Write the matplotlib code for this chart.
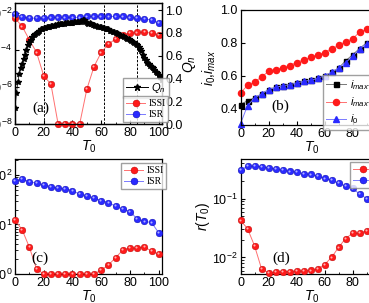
import matplotlib
matplotlib.use("Agg")
import matplotlib.pyplot as plt
import numpy as np
from matplotlib.lines import Line2D
from matplotlib.transforms import offset_copy
from matplotlib.ticker import FixedLocator, LogLocator, NullFormatter

plt.rcParams['font.family'] = ['Liberation Sans', 'DejaVu Sans']
plt.rcParams['mathtext.fontset'] = 'custom'
plt.rcParams['mathtext.rm'] = 'Liberation Sans'
plt.rcParams['mathtext.it'] = 'Liberation Sans:italic'

# ---- data ----
t5 = list(range(0, 105, 5))

# (a) ISSI / ISR, log10 of the left-axis value (0 -> bottom of axis)
a_issi_log = [-2.29, -2.74, -3.46, -4.14, -5.4, -5.85, -8, -8, -8, -8, -6.12,
              -4.9, -4.14, -3.68, -3.42, -3.19, -3.1, -3.06, -3.05, -3.1, -3.19]
a_isr_log = [-2.05, -2.23, -2.29, -2.29, -2.29, -2.25, -2.25, -2.25, -2.25, -2.25, -2.2,
             -2.2, -2.2, -2.2, -2.2, -2.2, -2.25, -2.29, -2.34, -2.38, -2.56]

# (a) Q_n, right axis
qn_t = list(range(0, 103))
qn = [0.14, 0.27, 0.37, 0.44, 0.49, 0.53, 0.57, 0.61, 0.65, 0.69,
      0.72, 0.74, 0.76, 0.78, 0.79, 0.80, 0.81, 0.82, 0.83, 0.835,
      0.84, 0.845, 0.85, 0.85, 0.855, 0.86, 0.86, 0.865, 0.87, 0.87,
      0.875, 0.875, 0.88, 0.88, 0.88, 0.885, 0.885, 0.885, 0.89, 0.89,
      0.89, 0.895, 0.895, 0.895, 0.90, 0.90, 0.905, 0.91, 0.91, 0.90,
      0.89, 0.88, 0.885, 0.875, 0.87, 0.87, 0.865, 0.86, 0.855, 0.85,
      0.85, 0.845, 0.84, 0.835, 0.83, 0.83, 0.82, 0.815, 0.81, 0.805,
      0.80, 0.795, 0.79, 0.78, 0.775, 0.77, 0.76, 0.755, 0.75, 0.745,
      0.74, 0.73, 0.72, 0.71, 0.70, 0.69, 0.68, 0.66, 0.64, 0.61,
      0.58, 0.56, 0.54, 0.53, 0.51, 0.50, 0.49, 0.47, 0.46, 0.45,
      0.43, 0.41, 0.385]
vlines_t = [20, 62, 85]

# (b)
b_t = list(range(0, 95, 5))
b_imax1 = [0.424, 0.448, 0.465, 0.489, 0.515, 0.529, 0.539, 0.545, 0.556, 0.566,
           0.572, 0.584, 0.6, 0.62, 0.646, 0.69, 0.727, 0.765, 0.80]
b_imax2 = [0.495, 0.541, 0.562, 0.592, 0.626, 0.636, 0.65, 0.662, 0.68, 0.697,
           0.711, 0.727, 0.741, 0.764, 0.784, 0.808, 0.824, 0.865, 0.883]
b_i0 = [0.307, 0.418, 0.465, 0.489, 0.515, 0.529, 0.539, 0.545, 0.556, 0.566,
        0.572, 0.584, 0.6, 0.62, 0.646, 0.68, 0.717, 0.762, 0.794]

# (c) log10 values
c_issi_log = [1.09, 0.89, 0.54, 0.1, 0, 0, 0, 0, 0, 0, 0, 0,
              0.08, 0.18, 0.33, 0.48, 0.53, 0.52, 0.55, 0.46, 0.4]
c_isr_log = [1.885, 1.91, 1.865, 1.83, 1.8, 1.76, 1.73, 1.72, 1.68, 1.61, 1.58,
             1.53, 1.48, 1.44, 1.37, 1.31, 1.26, 1.11, 1.06, 1.04, 0.83]

# (d) log10 values
d_t = list(range(0, 95, 5))
d_issi_log = [-1.37, -1.51, -1.80, -2.19, -2.26, -2.25, -2.24, -2.24, -2.23, -2.23,
              -2.22, -2.2, -2.12, -2.0, -1.83, -1.68, -1.59, -1.59, -1.55]
d_isr_log = [-0.52, -0.45, -0.45, -0.46, -0.48, -0.5, -0.52, -0.54, -0.55, -0.58,
             -0.59, -0.62, -0.66, -0.69, -0.74, -0.79, -0.83, -0.92, -1.0]

W, H = 369, 303
fig = plt.figure(figsize=(W / 100, H / 100), dpi=100)

RED, RED_L, RED_E = '#ff1a1a', '#ff7070', '#b00000'
BLU, BLU_L, BLU_E = '#2a2aff', '#7a7aff', '#0000a0'


def px_axes(l, t, r, b):
    return fig.add_axes([l / W, 1 - b / H, (r - l) / W, (b - t) / H])


def style(ax):
    ax.tick_params(direction='in', length=3, width=0.8, labelsize=9, pad=2)
    ax.tick_params(which='minor', direction='in', length=1.8, width=0.6)
    for s in ax.spines.values():
        s.set_linewidth(0.9)


def balls(ax, x, y, face, line, edge, hi):
    ax.plot(x, y, '-', color=line, lw=0.7, zorder=2)
    ax.plot(x, y, 'o', ms=4.8, mfc=face, mec=edge, mew=0.3, zorder=3, clip_on=False)
    tr = offset_copy(ax.transData, fig=fig, x=-0.6, y=0.6, units='points')
    ax.plot(x, y, 'o', ms=1.5, mfc=hi, mec='none', transform=tr, zorder=4, clip_on=False)


def ball_handle(face, line, edge):
    return Line2D([], [], color=line, lw=0.7, marker='o', ms=5, mfc=face, mec=edge, mew=0.3)


def issi_legend(ax, anchor):
    h = [ball_handle(RED, RED_L, RED_E), ball_handle(BLU, BLU_L, BLU_E)]
    return ax.legend(h, ['ISSI', 'ISR'], loc='upper left', bbox_to_anchor=anchor,
                     bbox_transform=fig.transFigure, prop={'family': 'Liberation Serif', 'size': 7},
                     frameon=True, fancybox=False, edgecolor='#888888', handlelength=2.0,
                     handletextpad=0.3, borderpad=0.3, labelspacing=0.25, borderaxespad=0)


# ---------------- (a) ----------------
axa = px_axes(15, 3.3, 162.3, 124)
style(axa)
axa.set_yscale('log')
axa.set_xlim(0, 102.5)
axa.set_ylim(1e-8, 10 ** -1.49)
for v in vlines_t:
    axa.axvline(v, color='black', lw=0.7, ls=(0, (2.5, 1.5)), zorder=1)
balls(axa, t5, [10 ** v for v in a_issi_log], RED, RED_L, RED_E, '#ffb0b0')
balls(axa, t5, [10 ** v for v in a_isr_log], BLU, BLU_L, BLU_E, '#b0b0ff')
axa.yaxis.set_major_locator(FixedLocator([1e-8, 1e-6, 1e-4, 1e-2]))
axa.yaxis.set_minor_locator(FixedLocator([]))
axa.set_xticks([0, 20, 40, 60, 80, 100])
axa.set_xticks(range(10, 101, 20), minor=True)
axa.set_xlabel('$T_0$', fontsize=10, labelpad=0)

axq = axa.twinx()
style(axq)
axq.set_ylim(0, 1.06)
axq.set_yticks([0, 0.2, 0.4, 0.6, 0.8, 1.0])
axq.set_yticklabels(['0.0', '0.2', '0.4', '0.6', '0.8', '1.0'])
axq.plot(qn_t, qn, '-', color='black', lw=0.5, marker='*', ms=3.8, zorder=3)
axq.set_ylabel('$Q_n$', fontsize=10, labelpad=-1)
leg_q = axq.legend([Line2D([], [], color='black', lw=0.7, marker='*', ms=5)], ['$Q_n$'],
                   loc='upper left', bbox_to_anchor=(123 / W, 1 - 78 / H),
                   bbox_transform=fig.transFigure, prop={'size': 8}, frameon=True,
                   fancybox=False, edgecolor='#888888', handlelength=2.0, handletextpad=0.3,
                   borderpad=0.25, borderaxespad=0)
axq.add_artist(leg_q)
issi_legend(axq, (123 / W, 1 - 96 / H))
fig.text(41 / W, 1 - 108.5 / H, '(a)', family='Liberation Serif', fontsize=11,
         ha='center', va='center')

# ---------------- (b) ----------------
axb = px_axes(240.5, 10, 384, 125)
style(axb)
axb.set_xlim(0, 102.5)
axb.set_ylim(0.3, 1.0)
axb.set_yticks([0.4, 0.6, 0.8, 1.0])
axb.set_xticks([0, 20, 40, 60, 80, 100])
axb.set_xticks(range(10, 101, 20), minor=True)
axb.plot(b_t, b_imax1, '-', color='#777777', lw=0.7, marker='s', ms=3.6, mfc='black', mec='black',
         clip_on=False, label='$i_{max}$-I')
axb.plot(b_t, b_imax2, '-', color=RED_L, lw=0.7, marker='o', ms=4.4, mfc=RED, mec=RED,
         clip_on=False, label='$i_{max}$-II')
axb.plot(b_t, b_i0, '-', color=BLU_L, lw=0.7, marker='^', ms=4.2, mfc=BLU, mec=BLU,
         clip_on=False, label='$i_0$')
axb.set_xlabel('$T_0$', fontsize=10, labelpad=0)
axb.set_ylabel('$i_0$,$i_{max}$', fontsize=10, labelpad=2)
axb.legend(loc='upper left', bbox_to_anchor=(323 / W, 1 - 75 / H), bbox_transform=fig.transFigure,
           prop={'size': 8}, frameon=True, fancybox=False, edgecolor='#888888', handlelength=1.8,
           handletextpad=0.3, borderpad=0.3, labelspacing=0.3, borderaxespad=0)
fig.text(280 / W, 1 - 106 / H, '(b)', family='Liberation Serif', fontsize=11,
         ha='center', va='center')

# ---------------- (c) ----------------
axc = px_axes(15, 159, 162.3, 274)
style(axc)
axc.set_yscale('log')
axc.set_xlim(0, 102.5)
axc.set_ylim(1, 10 ** 2.32)
balls(axc, t5, [10 ** v for v in c_issi_log], RED, RED_L, RED_E, '#ffb0b0')
balls(axc, t5, [10 ** v for v in c_isr_log], BLU, BLU_L, BLU_E, '#b0b0ff')
axc.yaxis.set_major_locator(FixedLocator([1, 10, 100]))
axc.yaxis.set_minor_formatter(NullFormatter())
axc.set_xticks([0, 20, 40, 60, 80, 100])
axc.set_xticks(range(10, 101, 20), minor=True)
axc.set_xlabel('$T_0$', fontsize=10, labelpad=0)
issi_legend(axc, (121 / W, 1 - 163 / H))
fig.text(40 / W, 1 - 258 / H, '(c)', family='Liberation Serif', fontsize=11,
         ha='center', va='center')

# ---------------- (d) ----------------
axd = px_axes(240.5, 159, 384, 274)
style(axd)
axd.set_yscale('log')
axd.set_xlim(0, 102.5)
axd.set_ylim(10 ** -2.28, 10 ** -0.33)
balls(axd, d_t, [10 ** v for v in d_issi_log], RED, RED_L, RED_E, '#ffb0b0')
balls(axd, d_t, [10 ** v for v in d_isr_log], BLU, BLU_L, BLU_E, '#b0b0ff')
axd.yaxis.set_major_locator(FixedLocator([1e-2, 1e-1]))
axd.yaxis.set_minor_formatter(NullFormatter())
axd.set_xticks([0, 20, 40, 60, 80, 100])
axd.set_xticks(range(10, 101, 20), minor=True)
axd.set_xlabel('$T_0$', fontsize=10, labelpad=0)
axd.set_ylabel('$r(T_0)$', fontsize=10, labelpad=0)
issi_legend(axd, (350 / W, 1 - 162 / H))
fig.text(281 / W, 1 - 258 / H, '(d)', family='Liberation Serif', fontsize=11,
         ha='center', va='center')

fig.savefig('out.png', dpi=100)
